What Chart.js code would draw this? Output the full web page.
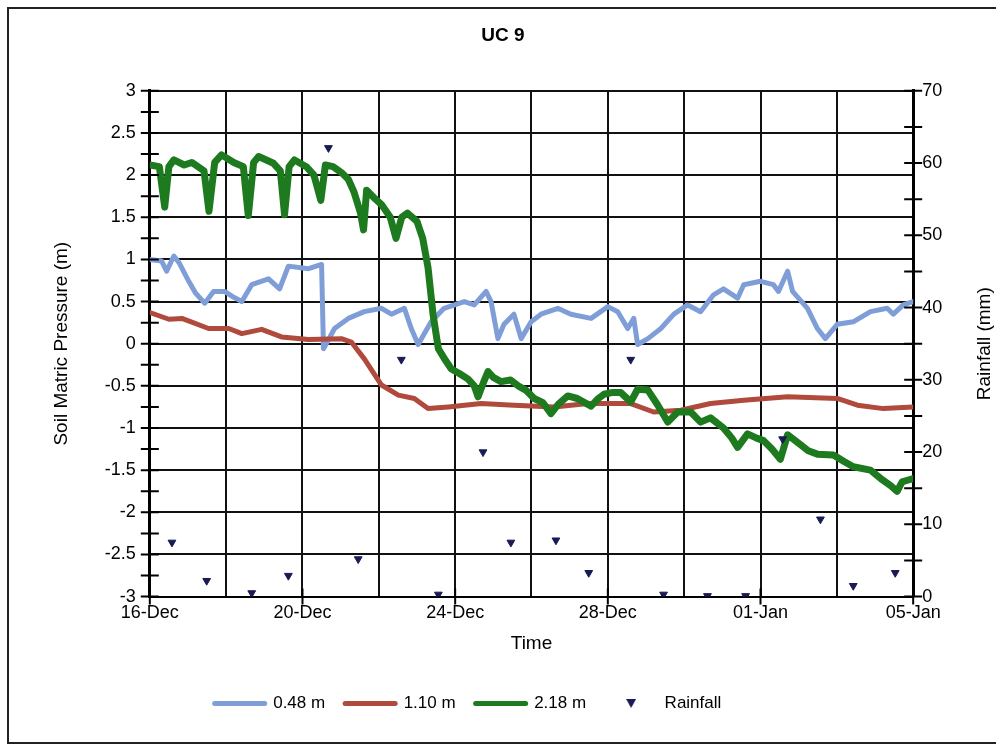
<!DOCTYPE html>
<html>
<head>
<meta charset="utf-8">
<title>UC 9</title>
<script src="https://cdn.jsdelivr.net/npm/chart.js@4.4.0/dist/chart.umd.min.js"></script>
<style>
  html, body { margin: 0; padding: 0; background: #fff; }
  #wrap { position: relative; width: 996px; height: 747px; }
  #frame { position: absolute; left: 7px; top: 7px; width: 1000px; height: 733px;
           border: 2px solid #222; border-right: none; pointer-events: none; }
</style>
</head>
<body>
<div id="wrap">
  <canvas id="ucChart"></canvas>
  <div id="frame"></div>
</div>
<script>
// x values are days after 16-Dec
var dateLabels = ['16-Dec', '20-Dec', '24-Dec', '28-Dec', '01-Jan', '05-Jan'];
var seriesNames = ['0.48 m', '1.10 m', '2.18 m', 'Rainfall'];

var shallowDays = [0, 0.31, 0.44, 0.63, 0.78, 1.02, 1.2, 1.44, 1.67, 1.96, 2.2, 2.41, 2.67, 3.11, 3.4, 3.63,
    4.16, 4.5, 4.55, 4.84, 5.2, 5.62, 6.07, 6.33, 6.67, 6.85, 7.03, 7.37, 7.71, 8.24, 8.5, 8.81, 8.94,
    9.12, 9.28, 9.54, 9.73, 9.99, 10.25, 10.69, 11.03, 11.56, 12.0, 12.26, 12.52, 12.68, 12.78, 13.05,
    13.39, 13.73, 14.09, 14.43, 14.77, 15.03, 15.4, 15.56, 16.0, 16.34, 16.47, 16.71, 16.84, 17.23,
    17.49, 17.7, 18.01, 18.43, 18.88, 19.32, 19.48, 19.74, 20.0];
var shallowValues = [1.0, 0.98, 0.86, 1.04, 0.95, 0.74, 0.6, 0.48, 0.62, 0.62, 0.55, 0.5, 0.7, 0.77, 0.65, 0.92,
    0.89, 0.94, -0.06, 0.18, 0.3, 0.38, 0.42, 0.35, 0.42, 0.18, -0.01, 0.26, 0.42, 0.5, 0.46, 0.62, 0.5,
    0.06, 0.23, 0.35, 0.06, 0.26, 0.35, 0.42, 0.35, 0.3, 0.44, 0.38, 0.18, 0.3, -0.01, 0.06,
    0.18, 0.35, 0.46, 0.38, 0.58, 0.65, 0.54, 0.7, 0.74, 0.7, 0.62, 0.86, 0.62, 0.42,
    0.18, 0.06, 0.23, 0.26, 0.38, 0.42, 0.35, 0.46, 0.5];

var middleDays = [0, 0.5, 0.84, 1.54, 2.07, 2.41, 2.93, 3.45, 4.16, 5.02, 5.28, 5.62, 6.07, 6.51, 6.93, 7.29,
    7.82, 8.68, 9.54, 10.59, 11.48, 12.6, 13.2, 13.91, 14.69, 15.56, 16.71, 18.01, 18.54, 19.22, 20.0];
var middleValues = [0.37, 0.29, 0.3, 0.18, 0.18, 0.12, 0.17, 0.08, 0.05, 0.06, 0.02, -0.18, -0.49, -0.61, -0.65, -0.77,
    -0.75, -0.71, -0.73, -0.75, -0.71, -0.71, -0.81, -0.79, -0.71, -0.67, -0.63, -0.65, -0.73, -0.77, -0.75];

var deepDays = [0, 0.25, 0.39, 0.5, 0.63, 0.9, 1.1, 1.42, 1.55, 1.7, 1.88, 2.2, 2.45, 2.58, 2.72, 2.85, 3.24,
    3.42, 3.53, 3.65, 3.79, 4.1, 4.3, 4.48, 4.6, 4.8, 5.02, 5.2, 5.35, 5.52, 5.6, 5.68, 5.9, 6.07, 6.3,
    6.45, 6.6, 6.75, 7.0, 7.15, 7.29, 7.42, 7.56, 7.75, 7.9, 8.1, 8.34, 8.5, 8.6, 8.75, 8.86, 9.0, 9.2,
    9.45, 9.65, 9.85, 10.07, 10.3, 10.51, 10.7, 10.95, 11.2, 11.56, 11.75, 11.9, 12.1, 12.34, 12.6,
    12.78, 13.05, 13.31, 13.57, 13.83, 14.17, 14.43, 14.69, 15.03, 15.25, 15.4, 15.66, 15.9, 16.08,
    16.3, 16.52, 16.71, 17.05, 17.25, 17.49, 17.91, 18.2, 18.43, 18.88, 19.15, 19.4, 19.58, 19.71,
    19.85, 20.0];
var deepValues = [2.12, 2.1, 1.62, 2.1, 2.18, 2.12, 2.15, 2.05, 1.57, 2.15, 2.24, 2.15, 2.1, 1.52, 2.15, 2.22, 2.14,
    2.05, 1.53, 2.1, 2.18, 2.1, 2.0, 1.7, 2.12, 2.1, 2.03, 1.95, 1.8, 1.55, 1.35, 1.82, 1.72, 1.65, 1.5,
    1.25, 1.5, 1.55, 1.45, 1.25, 0.9, 0.35, -0.06, -0.2, -0.3, -0.35, -0.42, -0.5, -0.63, -0.45, -0.33, -0.4, -0.45,
    -0.43, -0.5, -0.55, -0.65, -0.7, -0.83, -0.72, -0.62, -0.65, -0.74, -0.65, -0.6, -0.58, -0.58, -0.69,
    -0.54, -0.55, -0.73, -0.93, -0.81, -0.81, -0.93, -0.88, -1.0, -1.12, -1.23, -1.07, -1.12, -1.15,
    -1.25, -1.37, -1.08, -1.2, -1.27, -1.31, -1.32, -1.4, -1.46, -1.5, -1.6, -1.68, -1.75, -1.64,
    -1.62, -1.6];

var rainDays = [0.58, 1.49, 2.67, 3.63, 4.68, 5.46, 6.59, 7.56, 8.73, 9.46, 10.64, 11.5, 12.6, 13.46,
    14.61, 15.61, 16.58, 17.57, 18.43, 19.53];
var rainValues = [7.5, 2.2, 0.5, 2.9, 62.1, 5.2, 32.8, 0.3, 20, 7.5, 7.8, 3.3, 32.8, 0.3,
    0.1, 0.1, 21.8, 10.7, 1.5, 3.3];

var FONT = '"Liberation Sans", Arial, sans-serif';
var BLUE = '#7f9ed8';
var RED = '#b04a3c';
var GREEN = '#1e7a1e';
var NAVY = '#1a1a55';

function toPoints(days, values) {
    return days.map(function (d, i) { return {x: d, y: values[i]}; });
}

function isMultiple(v, step) {
    return Math.abs(v / step - Math.round(v / step)) < 1e-6;
}

// small triangle for the legend, the built-in one gets stretched by pointStyleWidth
var legendTriangle = document.createElement('canvas');
legendTriangle.width = 10;
legendTriangle.height = 9;
(function () {
    var c = legendTriangle.getContext('2d');
    c.fillStyle = NAVY;
    c.beginPath();
    c.moveTo(0, 0);
    c.lineTo(10, 0);
    c.lineTo(5, 9);
    c.closePath();
    c.fill();
})();

// excel style ticks that cross the axis line
var crossTicks = {
    id: 'crossTicks',
    afterDatasetsDraw: function (chart) {
        var ctx = chart.ctx;
        var area = chart.chartArea;
        var sx = chart.scales.x, sy = chart.scales.y, sy1 = chart.scales.y1;
        ctx.save();
        ctx.strokeStyle = '#000';
        ctx.lineWidth = 2;
        ctx.beginPath();
        sy.ticks.forEach(function (t) {
            var p = sy.getPixelForValue(t.value);
            ctx.moveTo(area.left - 9, p);
            ctx.lineTo(area.left + 9, p);
        });
        sy1.ticks.forEach(function (t) {
            var p = sy1.getPixelForValue(t.value);
            ctx.moveTo(area.right - 9, p);
            ctx.lineTo(area.right + 9, p);
        });
        sx.ticks.forEach(function (t) {
            if (!isMultiple(t.value, 4)) return;
            var p = sx.getPixelForValue(t.value);
            ctx.moveTo(p, area.bottom - 8);
            ctx.lineTo(p, area.bottom + 8);
        });
        ctx.stroke();
        ctx.restore();
    }
};

// right axis title reads bottom to top like the original
var rightTitle = {
    id: 'rightTitle',
    afterDraw: function (chart) {
        var s = chart.scales.y1;
        var ctx = chart.ctx;
        ctx.save();
        ctx.translate(s.right - 11.4, (s.top + s.bottom) / 2);
        ctx.rotate(-Math.PI / 2);
        ctx.font = '19px ' + FONT;
        ctx.fillStyle = '#000';
        ctx.textAlign = 'center';
        ctx.textBaseline = 'middle';
        ctx.fillText('Rainfall (mm)', 0, 0);
        ctx.restore();
    }
};

var legendShift = {
    id: 'legendShift',
    afterLayout: function (chart) {
        chart.legend.left -= 35;
        chart.legend.right -= 35;
    }
};

function lineSet(label, days, values, color, width, order) {
    return {
        label: label,
        data: toPoints(days, values),
        borderColor: color,
        backgroundColor: color,
        borderWidth: width,
        pointRadius: 0,
        tension: 0,
        borderJoinStyle: 'round',
        borderCapStyle: 'round',
        yAxisID: 'y',
        order: order
    };
}

var ctx = document.getElementById('ucChart').getContext('2d');
var chart = new Chart(ctx, {
    type: 'line',
    data: {
        datasets: [
            lineSet(seriesNames[0], shallowDays, shallowValues, BLUE, 5, 3),
            lineSet(seriesNames[1], middleDays, middleValues, RED, 5, 2),
            lineSet(seriesNames[2], deepDays, deepValues, GREEN, 7, 1),
            {
                label: seriesNames[3],
                data: toPoints(rainDays, rainValues),
                showLine: false,
                pointStyle: 'triangle',
                rotation: 180,
                pointRadius: 4.5,
                pointBackgroundColor: NAVY,
                pointBorderColor: NAVY,
                pointBorderWidth: 1,
                borderColor: NAVY,
                backgroundColor: NAVY,
                yAxisID: 'y1',
                order: 0
            }
        ]
    },
    options: {
        responsive: true,
        maintainAspectRatio: false,
        animation: false,
        layout: {
            padding: {left: 10, right: 0, top: 0, bottom: 25}
        },
        scales: {
            x: {
                type: 'linear',
                min: 0,
                max: 20,
                border: {color: '#000', width: 2},
                grid: {
                    color: '#111',
                    lineWidth: 2,
                    drawTicks: false
                },
                ticks: {
                    stepSize: 2,
                    autoSkip: false,
                    maxRotation: 0,
                    padding: 6,
                    color: '#000',
                    font: {family: FONT, size: 18},
                    callback: function (v) {
                        return isMultiple(v, 4) ? dateLabels[Math.round(v / 4)] : '';
                    }
                },
                title: {
                    display: true,
                    text: 'Time',
                    color: '#000',
                    font: {family: FONT, size: 19},
                    padding: {top: 2, bottom: 20}
                }
            },
            y: {
                position: 'left',
                min: -3,
                max: 3,
                border: {color: '#000', width: 3},
                grid: {
                    drawTicks: false,
                    lineWidth: 2,
                    color: function (c) {
                        return isMultiple(c.tick.value, 0.5) ? '#111' : 'rgba(0,0,0,0)';
                    }
                },
                ticks: {
                    stepSize: 0.25,
                    autoSkip: false,
                    padding: 14,
                    color: '#000',
                    font: {family: FONT, size: 18},
                    callback: function (v) {
                        return isMultiple(v, 0.5) ? String(Math.round(v * 10) / 10) : '';
                    }
                },
                title: {
                    display: true,
                    text: 'Soil Matric Pressure (m)',
                    color: '#000',
                    font: {family: FONT, size: 19},
                    padding: {top: 40, bottom: 18}
                }
            },
            y1: {
                position: 'right',
                min: 0,
                max: 70,
                border: {color: '#000', width: 3},
                grid: {drawOnChartArea: false, drawTicks: false},
                ticks: {
                    stepSize: 5,
                    autoSkip: false,
                    padding: 9,
                    color: '#000',
                    font: {family: FONT, size: 18},
                    callback: function (v) {
                        return isMultiple(v, 10) ? String(v) : '';
                    }
                },
                title: {
                    display: true,
                    text: 'Rainfall (mm)',
                    color: 'rgba(0,0,0,0)',
                    font: {family: FONT, size: 19},
                    padding: {top: 0, bottom: 22}
                }
            }
        },
        plugins: {
            title: {
                display: true,
                text: 'UC 9',
                color: '#000',
                font: {family: FONT, size: 19, weight: 'bold'},
                padding: {top: 24, bottom: 44}
            },
            legend: {
                position: 'bottom',
                labels: {
                    usePointStyle: true,
                    pointStyleWidth: 50,
                    boxHeight: 10,
                    padding: 20,
                    color: '#000',
                    font: {family: FONT, size: 17},
                    generateLabels: function (chart) {
                        return chart.data.datasets.map(function (ds, i) {
                            var isRain = ds.yAxisID === 'y1';
                            return {
                                text: ds.label,
                                datasetIndex: i,
                                fillStyle: ds.borderColor,
                                strokeStyle: ds.borderColor,
                                lineWidth: isRain ? 0 : 5,
                                lineCap: 'round',
                                pointStyle: isRain ? legendTriangle : 'line',
                                rotation: 0,
                                hidden: false
                            };
                        });
                    }
                }
            },
            tooltip: {enabled: false}
        }
    },
    plugins: [crossTicks, rightTitle, legendShift]
});
</script>
</body>
</html>
